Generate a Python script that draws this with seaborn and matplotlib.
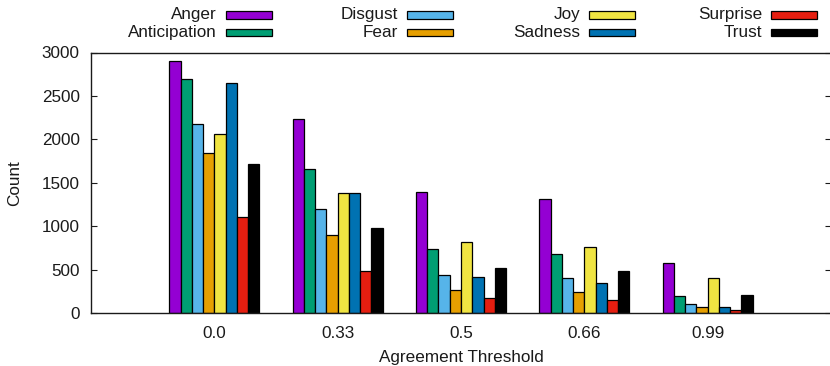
import matplotlib
matplotlib.use("Agg")
import matplotlib.pyplot as plt
from matplotlib.patches import Rectangle
import seaborn as sns
import pandas as pd

# Emotion counts per annotator-agreement threshold
thresholds = ["0.0", "0.33", "0.5", "0.66", "0.99"]
emotions = ["Anger", "Anticipation", "Disgust", "Fear",
            "Joy", "Sadness", "Surprise", "Trust"]
anger = [2900, 2240, 1390, 1315, 580]
anticipation = [2700, 1658, 740, 680, 195]
disgust = [2183, 1200, 440, 405, 105]
fear = [1840, 900, 270, 245, 70]
joy = [2068, 1385, 815, 765, 405]
sadness = [2645, 1385, 415, 345, 75]
surprise = [1110, 490, 175, 155, 35]
trust = [1715, 985, 520, 490, 215]
colors = ["#9400D3", "#009E73", "#56B4E9", "#E69F00",
          "#F0E442", "#0072B2", "#E51E10", "#000000"]

series = [anger, anticipation, disgust, fear, joy, sadness, surprise, trust]
rows = []
for emo, vals in zip(emotions, series):
    for t, v in zip(thresholds, vals):
        rows.append({"Agreement Threshold": t, "Emotion": emo, "Count": v})
df = pd.DataFrame(rows)

sns.set_style("white")
plt.rcParams["font.family"] = ["Liberation Sans", "DejaVu Sans"]
plt.rcParams["font.size"] = 12.3

W, H = 830, 366
fig = plt.figure(figsize=(W / 100, H / 100), dpi=100)
ax_left, ax_right, ax_top, ax_bottom = 91, 831, 52.5, 313.3
ax = fig.add_axes([ax_left / W, 1 - ax_bottom / H,
                   (ax_right - ax_left) / W, (ax_bottom - ax_top) / H])

sns.barplot(data=df, x="Agreement Threshold", y="Count", hue="Emotion",
            order=thresholds, hue_order=emotions, palette=colors,
            width=0.73, gap=0, edgecolor="black", linewidth=0.9,
            saturation=1, legend=False, ax=ax)

ax.set_xlim(-1, 5)
ax.set_ylim(0, 3000)
ax.set_yticks(range(0, 3001, 500))

for side in ["left", "right", "top", "bottom"]:
    ax.spines[side].set_visible(True)
    ax.spines[side].set_color("#1a1a1a")
    ax.spines[side].set_linewidth(1.0)

ax.tick_params(axis="y", which="both", direction="in", length=4.5,
               width=0.8, left=True, right=True, pad=8, colors="#1a1a1a",
               labelcolor="#1a1a1a")
ax.tick_params(axis="x", length=0, pad=9.5, labelcolor="#1a1a1a")

ax.set_xlabel("Agreement Threshold", color="#1a1a1a")
ax.set_ylabel("Count", color="#1a1a1a")
ax.xaxis.set_label_coords(0.5, -(350 - ax_bottom) / (ax_bottom - ax_top))
ax.yaxis.set_label_coords((22 - ax_left) / (ax_right - ax_left), 0.5)

# Two-row legend above the plot: right-aligned name followed by a swatch
sw_x = [226, 407, 589, 771]
row_y = [15, 32.7]
sw_w, sw_h = 46, 7.5
for i, (emo, col) in enumerate(zip(emotions, colors)):
    c, r = divmod(i, 2)
    x0, yc = sw_x[c], row_y[r]
    fig.patches.append(Rectangle((x0 / W, 1 - (yc + sw_h / 2) / H),
                                 sw_w / W, sw_h / H, transform=fig.transFigure,
                                 facecolor=col, edgecolor="black",
                                 linewidth=0.9))
    fig.text((x0 - 9) / W, 1 - yc / H, emo, ha="right", va="center",
             color="#1a1a1a")

fig.savefig("out.png", dpi=100)
